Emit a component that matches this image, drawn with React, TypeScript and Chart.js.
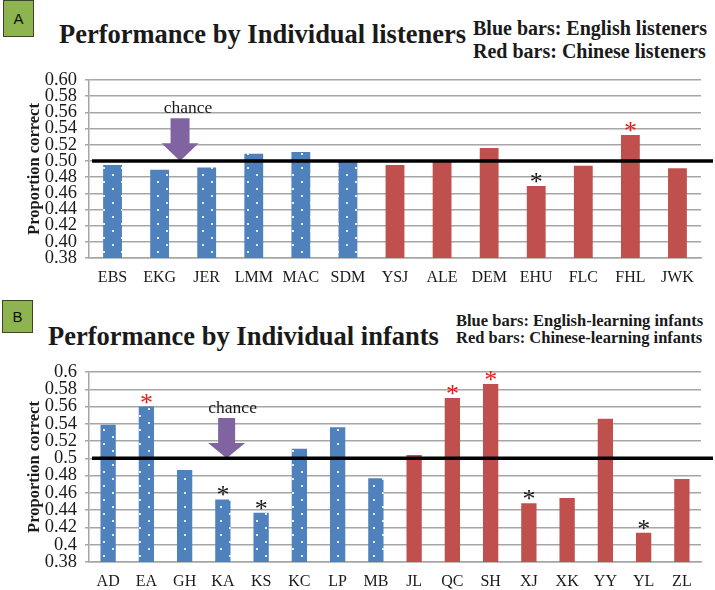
import React, { useEffect, useRef } from 'react';
import { Chart, registerables } from 'chart.js';

Chart.register(...registerables);

// ---------- Data ----------
const labelsA = ['EBS', 'EKG', 'JER', 'LMM', 'MAC', 'SDM', 'YSJ', 'ALE', 'DEM', 'EHU', 'FLC', 'FHL', 'JWK'];
const valuesA = [0.495, 0.489, 0.492, 0.509, 0.511, 0.499, 0.495, 0.499, 0.516, 0.469, 0.494, 0.532, 0.491];
const groupsA = ['en', 'en', 'en', 'en', 'en', 'en', 'zh', 'zh', 'zh', 'zh', 'zh', 'zh', 'zh'];
const starsA = ['', '', '', '', '', '', '', '', '', 'black', '', 'red', ''];

const labelsB = ['AD', 'EA', 'GH', 'KA', 'KS', 'KC', 'LP', 'MB', 'JL', 'QC', 'SH', 'XJ', 'XK', 'YY', 'YL', 'ZL'];
const valuesB = [0.539, 0.56, 0.4865, 0.4525, 0.437, 0.511, 0.536, 0.477, 0.504, 0.57, 0.586, 0.448, 0.454, 0.546, 0.414, 0.476];
const groupsB = ['en', 'en', 'en', 'en', 'en', 'en', 'en', 'en', 'zh', 'zh', 'zh', 'zh', 'zh', 'zh', 'zh', 'zh'];
const starsB = ['', 'red', '', 'black', 'black', '', '', '', '', 'red', 'red', 'black', '', '', 'black', ''];

const yMin = 0.38;
const yMax = 0.6;
const yStep = 0.02;
const chanceLevel = 0.5;

const fmtA = (v: number) => v.toFixed(2);
const fmtB = (v: number) => String(Number(v.toFixed(2)));

const SERIF = '"Liberation Serif", "Times New Roman", serif';
const BLUE = '#4f81bd';
const RED = '#c0504d';
const GRID = '#a6a6a6';

function makePattern() {
  const c = document.createElement('canvas');
  c.width = 18;
  c.height = 14;
  const g = c.getContext('2d')!;
  g.fillStyle = BLUE;
  g.fillRect(0, 0, 18, 14);
  g.fillStyle = 'rgba(255,255,255,0.85)';
  g.fillRect(4, 2, 2, 2);
  g.fillRect(13, 9, 2, 2);
  return g.createPattern(c, 'repeat');
}

const overlay = {
  id: 'overlay',
  afterDatasetsDraw(chart: any, _args: any, o: any) {
    const { ctx, chartArea } = chart;
    const x = chart.scales.x;
    const y = chart.scales.y;
    const tx = x.getPixelForValue(o.arrowAt);
    const yTip = y.getPixelForValue(chanceLevel);
    const yHead = y.getPixelForValue(o.arrowHead);
    const yTop = y.getPixelForValue(o.arrowTop);
    ctx.save();
    // arrow
    ctx.fillStyle = '#8064a2';
    ctx.beginPath();
    ctx.moveTo(tx - o.shaftHalf, yTop);
    ctx.lineTo(tx + o.shaftHalf, yTop);
    ctx.lineTo(tx + o.shaftHalf, yHead);
    ctx.lineTo(tx + o.headHalf, yHead);
    ctx.lineTo(tx, yTip);
    ctx.lineTo(tx - o.headHalf, yHead);
    ctx.lineTo(tx - o.shaftHalf, yHead);
    ctx.closePath();
    ctx.fill();
    // chance label
    ctx.fillStyle = '#1a1a1a';
    ctx.font = '17.5px ' + SERIF;
    ctx.textAlign = 'center';
    ctx.textBaseline = 'middle';
    ctx.fillText('chance', tx + o.labelDx, y.getPixelForValue(o.labelAt));
    // chance line
    ctx.strokeStyle = '#000';
    ctx.lineWidth = 3.5;
    ctx.beginPath();
    ctx.moveTo(chartArea.left + 3, yTip);
    ctx.lineTo(chart.width - 2, yTip);
    ctx.stroke();
    // significance stars
    const meta = chart.getDatasetMeta(0);
    ctx.font = '26px ' + SERIF;
    ctx.textBaseline = 'alphabetic';
    meta.data.forEach((bar: any, i: number) => {
      const s = o.stars[i];
      if (!s) return;
      ctx.fillStyle = s === 'red' ? '#f01818' : '#1a1a1a';
      ctx.fillText('*', bar.x, bar.y + o.starDy);
    });
    ctx.restore();
  },
};

type PanelProps = {
  labels: string[];
  values: number[];
  groups: string[];
  fmt: (v: number) => string;
  top: number;
  height: number;
  padTop: number;
  xHeight: number;
  overlayOpts: any;
};

function Panel({ labels, values, groups, fmt, top, height, padTop, xHeight, overlayOpts }: PanelProps) {
  const ref = useRef<HTMLCanvasElement>(null);
  useEffect(() => {
    const pattern = makePattern();
    const chart = new Chart(ref.current!, {
      type: 'bar',
      data: {
        labels,
        datasets: [
          {
            data: values,
            backgroundColor: groups.map((g) => (g === 'en' ? pattern : RED)) as any,
            barPercentage: 0.4,
            categoryPercentage: 1,
          },
        ],
      },
      options: {
        responsive: false,
        animation: false,
        layout: { padding: { top: padTop, right: 14, left: 0, bottom: 0 } },
        plugins: {
          legend: { display: false },
          tooltip: { enabled: false },
          overlay: overlayOpts,
        } as any,
        scales: {
          x: {
            grid: { display: false, drawTicks: false },
            border: { display: true, color: GRID, width: 1.5 },
            ticks: {
              font: { family: SERIF, size: 16 },
              color: '#1a1a1a',
              padding: 10,
              autoSkip: false,
              maxRotation: 0,
            },
            afterFit: (s: any) => {
              s.height = xHeight;
            },
          },
          y: {
            min: yMin,
            max: yMax,
            ticks: {
              stepSize: yStep,
              autoSkip: false,
              callback: (v: any) => fmt(Number(v)),
              font: { family: SERIF, size: 18.5, lineHeight: 1 },
              color: '#1a1a1a',
              padding: 8,
            },
            grid: { color: GRID, lineWidth: 1.5, tickLength: 4 },
            border: { display: true, color: GRID, width: 1.5 },
            title: {
              display: true,
              text: 'Proportion correct',
              font: { family: SERIF, size: 16.5, weight: 'bold' },
              color: '#1a1a1a',
              padding: { top: 25, bottom: 0 },
            },
            afterFit: (s: any) => {
              s.width = 89;
            },
          },
        },
      } as any,
      plugins: [overlay],
    });
    return () => chart.destroy();
  }, []);
  return (
    <canvas
      ref={ref}
      width={715}
      height={height}
      style={{ position: 'absolute', left: 0, top, width: 715, height }}
    />
  );
}

function Text({ x, baseline, size, children, bold = true }: any) {
  return (
    <div
      style={{
        position: 'absolute',
        left: x,
        top: baseline - 0.8375 * size,
        fontFamily: SERIF,
        fontWeight: bold ? 'bold' : 'normal',
        fontSize: size,
        lineHeight: 1,
        whiteSpace: 'nowrap',
        color: '#1a1a1a',
      }}
    >
      {children}
    </div>
  );
}

function Box({ x, y, w, h, label }: any) {
  return (
    <div
      style={{
        position: 'absolute',
        left: x,
        top: y,
        width: w,
        height: h,
        boxSizing: 'border-box',
        background: '#8db44e',
        border: '1.5px solid #3b4528',
        display: 'flex',
        alignItems: 'center',
        justifyContent: 'center',
        fontFamily: '"Liberation Sans", Arial, sans-serif',
        fontSize: 15,
        color: '#111',
      }}
    >
      {label}
    </div>
  );
}

export default function App() {
  return (
    <div
      style={{
        position: 'absolute',
        left: 0,
        top: 0,
        width: 715,
        height: 590,
        overflow: 'hidden',
        background: '#fff',
      }}
    >
      <Box x={3} y={0} w={31} h={37} label="A" />
      <Text x={59} baseline={43} size={26.5}>Performance by Individual listeners</Text>
      <Text x={473} baseline={35} size={20}>Blue bars: English listeners</Text>
      <Text x={473} baseline={58} size={20}>Red bars: Chinese listeners</Text>
      <Panel
        labels={labelsA}
        values={valuesA}
        groups={groupsA}
        fmt={fmtA}
        top={60}
        height={228}
        padTop={20}
        xHeight={30}
        overlayOpts={{
          arrowAt: 1.434,
          arrowTop: 0.5528,
          arrowHead: 0.5219,
          shaftHalf: 9.5,
          headHalf: 18.5,
          labelAt: 0.5655,
          labelDx: 8,
          stars: starsA,
          starDy: 4,
        }}
      />
      <Box x={2} y={300} w={31} h={33} label="B" />
      <Text x={48} baseline={345} size={26.5}>Performance by Individual infants</Text>
      <Text x={456} baseline={326.7} size={16.5}>Blue bars: English-learning infants</Text>
      <Text x={456} baseline={344.3} size={16.5}>Red bars: Chinese-learning infants</Text>
      <Panel
        labels={labelsB}
        values={valuesB}
        groups={groupsB}
        fmt={fmtB}
        top={350}
        height={240}
        padTop={22}
        xHeight={28}
        overlayOpts={{
          arrowAt: 3.098,
          arrowTop: 0.5467,
          arrowHead: 0.5177,
          shaftHalf: 8.5,
          headHalf: 18.5,
          labelAt: 0.5582,
          labelDx: 6,
          stars: starsB,
          starDy: 4,
        }}
      />
    </div>
  );
}
